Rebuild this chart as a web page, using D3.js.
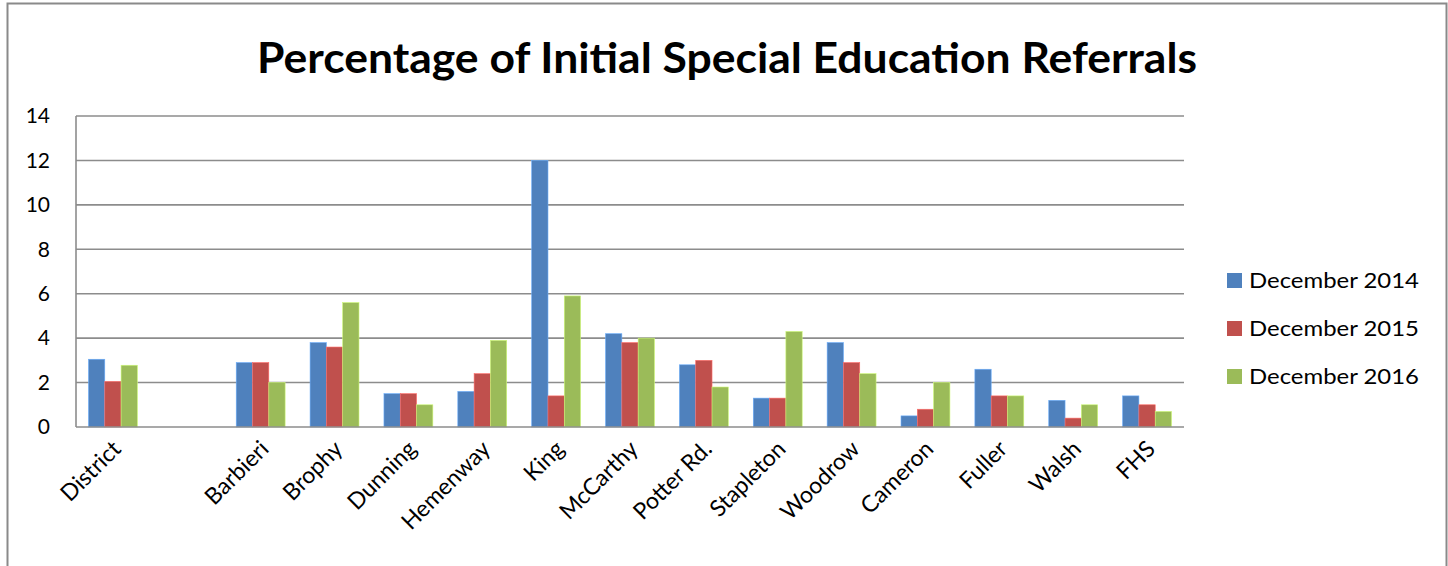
<!DOCTYPE html>
<html>
<head>
<meta charset="utf-8">
<script src="https://cdn.jsdelivr.net/npm/d3@7"></script>
<style>
  html, body { margin: 0; padding: 0; background: #fff; }
  svg { display: block; font-family: Lato, "Open Sans", sans-serif; }
</style>
</head>
<body>
<svg id="chart" width="1448" height="566"></svg>
<script>
const categories = ["District", "", "Barbieri", "Brophy", "Dunning", "Hemenway", "King", "McCarthy", "Potter Rd.", "Stapleton", "Woodrow", "Cameron", "Fuller", "Walsh", "FHS"];
const seriesNames = ["December 2014", "December 2015", "December 2016"];
const dec2014 = [3.05, null, 2.9, 3.8, 1.5, 1.6, 12.0, 4.2, 2.8, 1.3, 3.8, 0.5, 2.6, 1.2, 1.4];
const dec2015 = [2.05, null, 2.9, 3.6, 1.5, 2.4, 1.4, 3.8, 3.0, 1.3, 2.9, 0.8, 1.4, 0.4, 1.0];
const dec2016 = [2.78, null, 2.0, 5.6, 1.0, 3.9, 5.9, 4.0, 1.8, 4.3, 2.4, 2.0, 1.4, 1.0, 0.7];
const yTicks = [0, 2, 4, 6, 8, 10, 12, 14];
const colors = ["#4F81BD", "#C0504D", "#9BBB59"];
const seriesValues = [dec2014, dec2015, dec2016];

(function () {
const svg = d3.select("#chart");
const pL = 76, pR = 1184, pT = 116, pB = 427;

// outer frame
svg.append("rect").attr("x", 7.5).attr("y", 3.5).attr("width", 1439).attr("height", 600)
  .attr("fill", "none").attr("stroke", "#8a8a8a").attr("stroke-width", 2);

// title
svg.append("text").attr("x", 727).attr("y", 73).attr("text-anchor", "middle")
  .attr("font-size", 42).attr("font-weight", "bold").attr("fill", "#000")
  .attr("textLength", 940).attr("lengthAdjust", "spacingAndGlyphs")
  .text("Percentage of Initial Special Education Referrals");

const x0 = d3.scaleBand().domain(d3.range(categories.length)).range([pL, pR]).padding(0);
const step = x0.bandwidth();
const barW = 16.3;
const groupW = barW * 3;
const x1 = d3.scaleBand().domain(seriesNames).range([(step - groupW) / 2, (step + groupW) / 2]).padding(0);
const y = d3.scaleLinear().domain([0, 14]).range([pB, pT]);

// gridlines
svg.append("g").selectAll("line").data(yTicks.filter(d => d > 0)).join("line")
  .attr("x1", pL).attr("x2", pR)
  .attr("y1", d => y(d)).attr("y2", d => y(d))
  .attr("stroke", "#8c8c8c").attr("stroke-width", 1.6);

// y tick labels
svg.append("g").selectAll("text").data(yTicks).join("text")
  .attr("x", 50).attr("y", d => y(d)).attr("dy", "0.35em")
  .attr("text-anchor", "end").attr("font-size", 21).attr("fill", "#000")
  .text(d => d);

// bars
const rows = categories.map((c, i) => ({ i, vals: seriesValues.map((s, k) => ({ k, v: s[i] })) }));
const groups = svg.append("g").selectAll("g").data(rows).join("g")
  .attr("transform", d => `translate(${x0(d.i)},0)`);
groups.selectAll("rect").data(d => d.vals.filter(v => v.v != null)).join("rect")
  .attr("x", d => x1(seriesNames[d.k]))
  .attr("width", x1.bandwidth())
  .attr("y", d => y(d.v))
  .attr("height", d => y(0) - y(d.v))
  .attr("fill", d => colors[d.k])
  .attr("stroke", d => d3.color(colors[d.k]).brighter(0.8))
  .attr("stroke-width", 0.6);

// axes lines
svg.append("line").attr("x1", pL).attr("x2", pL).attr("y1", pT).attr("y2", pB)
  .attr("stroke", "#8c8c8c").attr("stroke-width", 1.6);
svg.append("line").attr("x1", pL).attr("x2", pR).attr("y1", pB).attr("y2", pB)
  .attr("stroke", "#8c8c8c").attr("stroke-width", 1.6);

// x labels
svg.append("g").selectAll("text").data(categories).join("text")
  .attr("transform", (d, i) => `translate(${x0(i) + step / 2 - 2},${pB + 12}) rotate(-45)`)
  .attr("text-anchor", "end").attr("dy", "0.7em").attr("font-size", 23).attr("fill", "#000")
  .text(d => d);

// legend
const lg = svg.append("g").selectAll("g").data(seriesNames).join("g")
  .attr("transform", (d, i) => `translate(1227,${273 + i * 48})`);
lg.append("rect").attr("width", 15).attr("height", 15).attr("fill", (d, i) => colors[i]);
lg.append("text").attr("x", 22).attr("y", 7.5).attr("dy", "0.36em")
  .attr("font-size", 22).attr("fill", "#000")
  .attr("textLength", 170).attr("lengthAdjust", "spacingAndGlyphs")
  .text(d => d);
})();
</script>
</body>
</html>
